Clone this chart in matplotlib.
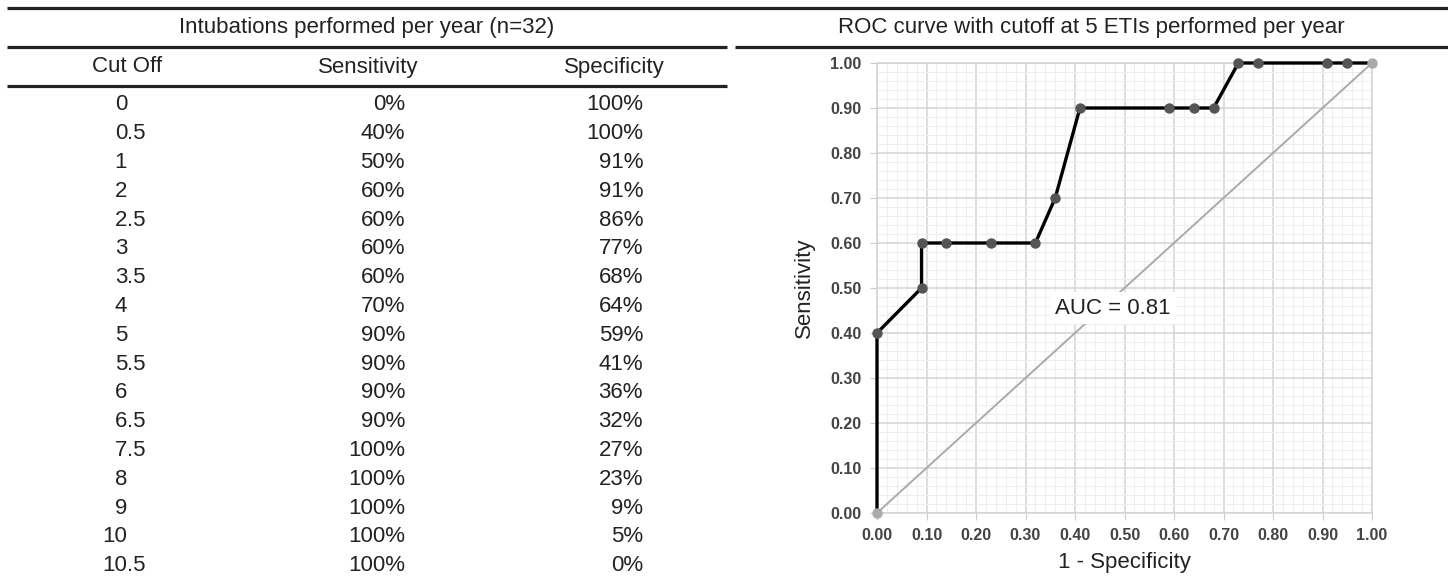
import numpy as np
import matplotlib.pyplot as plt
from matplotlib.ticker import MultipleLocator

plt.rcParams['font.family'] = ['Liberation Sans', 'DejaVu Sans']

# table data
table_title = 'Intubations performed per year (n=32)'
col_heads = ['Cut Off', 'Sensitivity', 'Specificity']
cutoffs = ['0', '0.5', '1', '2', '2.5', '3', '3.5', '4', '5', '5.5', '6', '6.5',
           '7.5', '8', '9', '10', '10.5']
sens = [0, 40, 50, 60, 60, 60, 60, 70, 90, 90, 90, 90, 100, 100, 100, 100, 100]
spec = [100, 100, 91, 91, 86, 77, 68, 64, 59, 41, 36, 32, 27, 23, 9, 5, 0]

roc_title = 'ROC curve with cutoff at 5 ETIs performed per year'
auc_text = 'AUC = 0.81'

W, H = 1448, 579
fig = plt.figure(figsize=(W / 100, H / 100), dpi=100)

# pixel-coordinate overlay for table + rules
ov = fig.add_axes([0, 0, 1, 1])
ov.set_xlim(0, W)
ov.set_ylim(H, 0)
ov.axis('off')

txt = '#222222'
fs = 16
rule = dict(color='#222222', lw=2.3, solid_capstyle='butt')

ov.plot([7, W], [8, 8], **rule)
ov.plot([7, 727], [47, 47], **rule)
ov.plot([735, W], [47, 47], **rule)
ov.plot([7, 727], [86, 86], **rule)

ov.text(367, 28, table_title, ha='center', va='center', fontsize=fs, color=txt)
ov.text(1091, 28, roc_title, ha='center', va='center', fontsize=fs, color=txt)

head_x = [127, 368, 614]
for hx, h in zip(head_x, col_heads):
    ov.text(hx, 67, h, ha='center', va='center', fontsize=fs, color=txt)

for i in range(len(cutoffs)):
    y = 105 + 28.8 * i
    c = cutoffs[i]
    # keep the decimal points lined up
    if '.' in c:
        ip, fp = c.split('.')
        ov.text(127, y, ip, ha='right', va='center', fontsize=fs, color=txt)
        ov.text(127, y, '.' + fp, ha='left', va='center', fontsize=fs, color=txt)
    else:
        ov.text(127, y, c, ha='right', va='center', fontsize=fs, color=txt)
    ov.text(405, y, '%d%%' % sens[i], ha='right', va='center', fontsize=fs, color=txt)
    ov.text(643, y, '%d%%' % spec[i], ha='right', va='center', fontsize=fs, color=txt)

# ROC plot
ax = fig.add_axes([877 / W, 1 - 513 / H, 495 / W, 450 / H])
fpr = 1 - np.array(spec) / 100.0
tpr = np.array(sens) / 100.0

ax.set_xlim(0, 1)
ax.set_ylim(0, 1)
ax.xaxis.set_major_locator(MultipleLocator(0.1))
ax.yaxis.set_major_locator(MultipleLocator(0.1))
ax.xaxis.set_minor_locator(MultipleLocator(0.02))
ax.yaxis.set_minor_locator(MultipleLocator(0.02))
ax.grid(which='major', color='#d4d4d4', lw=1.1)
ax.grid(which='minor', color='#eeeeee', lw=0.8)
ax.set_axisbelow(True)
for s in ax.spines.values():
    s.set_color('#d4d4d4')
    s.set_linewidth(1.1)
ax.tick_params(which='major', length=5, color='#cccccc', pad=6,
               labelsize=11.5, labelcolor='#444444')
ax.tick_params(which='minor', length=0)
ax.xaxis.set_major_formatter(lambda v, p: '%.2f' % v)
ax.yaxis.set_major_formatter(lambda v, p: '%.2f' % v)
for lab in ax.get_xticklabels() + ax.get_yticklabels():
    lab.set_fontweight('bold')

ax.plot(fpr, tpr, color='black', lw=2.4, marker='o', ms=6.5,
        mfc='#555555', mec='#555555', markevery=list(range(1, len(fpr) - 1)),
        clip_on=False, zorder=3)
ax.plot([0, 1], [0, 1], color='#aaaaaa', lw=1.4, marker='o', ms=6.5,
        clip_on=False, zorder=4)

ax.text(0.36, 0.455, auc_text, fontsize=fs, color=txt, ha='left', va='center',
        zorder=5, bbox=dict(facecolor='white', edgecolor='none', pad=4))

ax.set_xlabel('1 - Specificity', fontsize=fs, color=txt, labelpad=6)
ax.set_ylabel('Sensitivity', fontsize=fs, color=txt, labelpad=11)

fig.savefig('out.png', dpi=100)
